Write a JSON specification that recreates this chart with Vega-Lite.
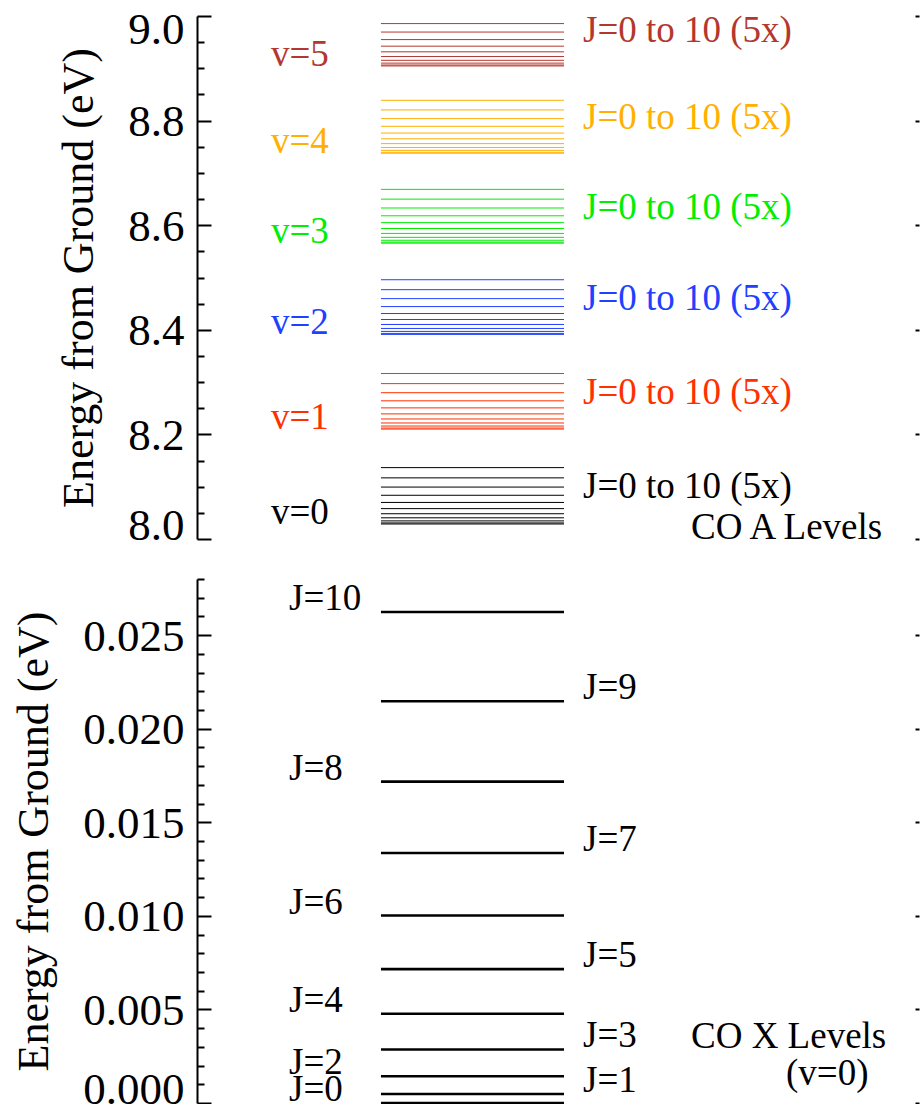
{
  "$schema": "https://vega.github.io/schema/vega-lite/v6.json",
  "background": "white",
  "padding": {"left": 12, "top": 7, "right": 0, "bottom": 0},
  "spacing": 28,
  "config": {
    "view": {"stroke": null},
    "axis": {"labelFont": "Liberation Serif", "titleFont": "Liberation Serif", "labelFontSize": 45, "titleFontSize": 44, "titleFontWeight": "normal", "labelColor": "black", "titleColor": "black", "domainColor": "black", "tickColor": "black", "domainWidth": 2, "tickWidth": 2, "grid": false},
    "text": {"font": "Liberation Serif", "fontSize": 37}
  },
  "datasets": {
    "A": [
      {"v": "v=0", "J": 0, "E": 8.0287}, {"v": "v=0", "J": 1, "E": 8.0307}, {"v": "v=0", "J": 2, "E": 8.0346}, {"v": "v=0", "J": 3, "E": 8.0405}, {"v": "v=0", "J": 4, "E": 8.0483}, {"v": "v=0", "J": 5, "E": 8.0581}, {"v": "v=0", "J": 6, "E": 8.0699}, {"v": "v=0", "J": 7, "E": 8.0836}, {"v": "v=0", "J": 8, "E": 8.0993}, {"v": "v=0", "J": 9, "E": 8.1169}, {"v": "v=0", "J": 10, "E": 8.1365},
      {"v": "v=1", "J": 0, "E": 8.2102}, {"v": "v=1", "J": 1, "E": 8.2121}, {"v": "v=1", "J": 2, "E": 8.2160}, {"v": "v=1", "J": 3, "E": 8.2218}, {"v": "v=1", "J": 4, "E": 8.2295}, {"v": "v=1", "J": 5, "E": 8.2392}, {"v": "v=1", "J": 6, "E": 8.2507}, {"v": "v=1", "J": 7, "E": 8.2642}, {"v": "v=1", "J": 8, "E": 8.2797}, {"v": "v=1", "J": 9, "E": 8.2971}, {"v": "v=1", "J": 10, "E": 8.3164},
      {"v": "v=2", "J": 0, "E": 8.3912}, {"v": "v=2", "J": 1, "E": 8.3931}, {"v": "v=2", "J": 2, "E": 8.3969}, {"v": "v=2", "J": 3, "E": 8.4026}, {"v": "v=2", "J": 4, "E": 8.4102}, {"v": "v=2", "J": 5, "E": 8.4197}, {"v": "v=2", "J": 6, "E": 8.4311}, {"v": "v=2", "J": 7, "E": 8.4444}, {"v": "v=2", "J": 8, "E": 8.4596}, {"v": "v=2", "J": 9, "E": 8.4767}, {"v": "v=2", "J": 10, "E": 8.4957},
      {"v": "v=3", "J": 0, "E": 8.5656}, {"v": "v=3", "J": 1, "E": 8.5675}, {"v": "v=3", "J": 2, "E": 8.5712}, {"v": "v=3", "J": 3, "E": 8.5768}, {"v": "v=3", "J": 4, "E": 8.5843}, {"v": "v=3", "J": 5, "E": 8.5937}, {"v": "v=3", "J": 6, "E": 8.6049}, {"v": "v=3", "J": 7, "E": 8.6180}, {"v": "v=3", "J": 8, "E": 8.6329}, {"v": "v=3", "J": 9, "E": 8.6498}, {"v": "v=3", "J": 10, "E": 8.6685},
      {"v": "v=4", "J": 0, "E": 8.7376}, {"v": "v=4", "J": 1, "E": 8.7394}, {"v": "v=4", "J": 2, "E": 8.7431}, {"v": "v=4", "J": 3, "E": 8.7486}, {"v": "v=4", "J": 4, "E": 8.7560}, {"v": "v=4", "J": 5, "E": 8.7652}, {"v": "v=4", "J": 6, "E": 8.7762}, {"v": "v=4", "J": 7, "E": 8.7891}, {"v": "v=4", "J": 8, "E": 8.8038}, {"v": "v=4", "J": 9, "E": 8.8204}, {"v": "v=4", "J": 10, "E": 8.8388},
      {"v": "v=5", "J": 0, "E": 8.9045}, {"v": "v=5", "J": 1, "E": 8.9063}, {"v": "v=5", "J": 2, "E": 8.9099}, {"v": "v=5", "J": 3, "E": 8.9153}, {"v": "v=5", "J": 4, "E": 8.9225}, {"v": "v=5", "J": 5, "E": 8.9315}, {"v": "v=5", "J": 6, "E": 8.9423}, {"v": "v=5", "J": 7, "E": 8.9549}, {"v": "v=5", "J": 8, "E": 8.9693}, {"v": "v=5", "J": 9, "E": 8.9855}, {"v": "v=5", "J": 10, "E": 9.0035}
    ],
    "X": [
      {"J": 0, "name": "J=0", "E": 0.0}, {"J": 1, "name": "J=1", "E": 0.000477}, {"J": 2, "name": "J=2", "E": 0.001431}, {"J": 3, "name": "J=3", "E": 0.002862}, {"J": 4, "name": "J=4", "E": 0.00477}, {"J": 5, "name": "J=5", "E": 0.007155}, {"J": 6, "name": "J=6", "E": 0.010017}, {"J": 7, "name": "J=7", "E": 0.013356}, {"J": 8, "name": "J=8", "E": 0.017172}, {"J": 9, "name": "J=9", "E": 0.021465}, {"J": 10, "name": "J=10", "E": 0.026235}
    ]
  },
  "vconcat": [
    {
      "width": 722, "height": 523,
      "resolve": {"axis": {"y": "independent"}},
      "layer": [
        {
          "data": {"name": "A"},
          "mark": {"type": "rule", "clip": true, "strokeWidth": 1},
          "encoding": {
            "x": {"datum": 0.2548, "type": "quantitative", "scale": {"domain": [0, 1], "nice": false, "zero": false}, "axis": null},
            "x2": {"datum": 0.5083},
            "y": {"field": "E", "type": "quantitative", "scale": {"domain": [8, 9], "nice": false, "zero": false},
              "axis": {"orient": "left", "title": "Energy from Ground (eV)", "values": [8, 8.05, 8.1, 8.15, 8.2, 8.25, 8.3, 8.35, 8.4, 8.45, 8.5, 8.55, 8.6, 8.65, 8.7, 8.75, 8.8, 8.85, 8.9, 8.95, 9],
                "labelExpr": "abs(datum.value*5 - round(datum.value*5)) < 0.001 ? format(datum.value, '.1f') : ''",
                "tickSize": {"condition": {"test": "abs(datum.value*5 - round(datum.value*5)) < 0.001", "value": -14}, "value": -7},
                "labelBaseline": "alphabetic",
                "labelOffset": {"condition": [{"test": "datum.value < 8.001", "value": 0}, {"test": "datum.value > 8.999", "value": 27}], "value": 15},
                "labelPadding": 27, "labelFlush": false, "labelOverlap": false, "titlePadding": 26}},
            "color": {"field": "v", "type": "nominal", "legend": null, "scale": {"domain": ["v=0", "v=1", "v=2", "v=3", "v=4", "v=5"], "range": ["#000000", "#FF3000", "#2040FF", "#00EE00", "#FFB000", "#B4372F"]}}
          }
        },
        {
          "data": {"name": "A"},
          "transform": [{"filter": "datum.J == 0"}],
          "mark": {"type": "text", "align": "left", "baseline": "alphabetic"},
          "encoding": {
            "x": {"datum": 0.1025, "type": "quantitative", "axis": null},
            "y": {"field": "E", "type": "quantitative",
              "axis": {"orient": "right", "title": null, "values": [8, 8.2, 8.4, 8.6, 8.8, 9], "labels": false, "domain": false, "tickSize": -4}},
            "text": {"field": "v"},
            "color": {"field": "v", "type": "nominal", "legend": null}
          }
        },
        {
          "data": {"name": "A"},
          "transform": [{"aggregate": [{"op": "mean", "field": "E", "as": "Emean"}], "groupby": ["v"]}],
          "mark": {"type": "text", "align": "left", "baseline": "alphabetic", "dy": -5},
          "encoding": {
            "x": {"datum": 0.5346, "type": "quantitative", "axis": null},
            "y": {"field": "Emean", "type": "quantitative", "axis": null},
            "text": {"value": "J=0 to 10 (5x)"},
            "color": {"field": "v", "type": "nominal", "legend": null}
          }
        },
        {
          "data": {"values": [{"label": "CO A Levels"}]},
          "mark": {"type": "text", "align": "left", "baseline": "alphabetic", "color": "black"},
          "encoding": {
            "x": {"datum": 0.6842, "type": "quantitative", "axis": null},
            "y": {"datum": 8.0, "type": "quantitative", "axis": null},
            "text": {"field": "label"}
          }
        }
      ]
    },
    {
      "width": 722, "height": 524,
      "resolve": {"axis": {"y": "independent"}},
      "layer": [
        {
          "data": {"name": "X"},
          "mark": {"type": "rule", "strokeWidth": 2.6, "color": "black"},
          "encoding": {
            "x": {"datum": 0.2548, "type": "quantitative", "scale": {"domain": [0, 1], "nice": false, "zero": false}, "axis": null},
            "x2": {"datum": 0.5083},
            "y": {"field": "E", "type": "quantitative", "scale": {"domain": [0, 0.028], "nice": false, "zero": false},
              "axis": {"orient": "left", "title": "Energy from Ground (eV)", "values": [0, 0.001, 0.002, 0.003, 0.004, 0.005, 0.006, 0.007, 0.008, 0.009, 0.01, 0.011, 0.012, 0.013, 0.014, 0.015, 0.016, 0.017, 0.018, 0.019, 0.02, 0.021, 0.022, 0.023, 0.024, 0.025, 0.026, 0.027, 0.028],
                "labelExpr": "abs(datum.value*200 - round(datum.value*200)) < 0.001 ? format(datum.value, '.3f') : ''",
                "tickSize": {"condition": {"test": "abs(datum.value*200 - round(datum.value*200)) < 0.001", "value": -14}, "value": -7},
                "labelBaseline": "alphabetic",
                "labelOffset": {"condition": [{"test": "datum.value < 0.0001", "value": 0}, {"test": "datum.value > 0.0279", "value": 40}], "value": 15},
                "labelPadding": 27, "labelFlush": false, "labelOverlap": false, "titlePadding": 26}}
          }
        },
        {
          "data": {"name": "X"},
          "transform": [{"filter": "datum.J % 2 == 0"}],
          "mark": {"type": "text", "align": "left", "baseline": "alphabetic", "dy": -2, "color": "black"},
          "encoding": {
            "x": {"datum": 0.1274, "type": "quantitative", "axis": null},
            "y": {"field": "E", "type": "quantitative",
              "axis": {"orient": "right", "title": null, "values": [0, 0.005, 0.01, 0.015, 0.02, 0.025], "labels": false, "domain": false, "tickSize": -4}},
            "text": {"field": "name"}
          }
        },
        {
          "data": {"name": "X"},
          "transform": [{"filter": "datum.J % 2 == 1"}],
          "mark": {"type": "text", "align": "left", "baseline": "alphabetic", "dy": -2, "color": "black"},
          "encoding": {
            "x": {"datum": 0.5346, "type": "quantitative", "axis": null},
            "y": {"field": "E", "type": "quantitative", "axis": null},
            "text": {"field": "name"}
          }
        },
        {
          "data": {"values": [{"label": "CO X Levels"}]},
          "mark": {"type": "text", "align": "left", "baseline": "alphabetic", "color": "black"},
          "encoding": {
            "x": {"datum": 0.6842, "type": "quantitative", "axis": null},
            "y": {"datum": 0.00294, "type": "quantitative", "axis": null},
            "text": {"field": "label"}
          }
        },
        {
          "data": {"values": [{"label": "(v=0)"}]},
          "mark": {"type": "text", "align": "left", "baseline": "alphabetic", "color": "black"},
          "encoding": {
            "x": {"datum": 0.8158, "type": "quantitative", "axis": null},
            "y": {"datum": 0.00096, "type": "quantitative", "axis": null},
            "text": {"field": "label"}
          }
        }
      ]
    }
  ]
}
